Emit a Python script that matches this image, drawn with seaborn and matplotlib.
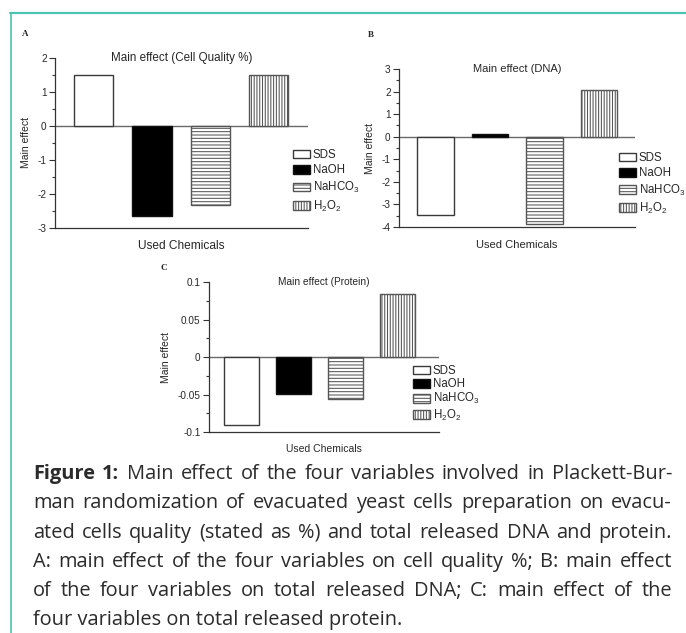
import matplotlib
matplotlib.use("Agg")
import matplotlib.pyplot as plt
from matplotlib.lines import Line2D
import seaborn as sns
import pandas as pd

# ---------- data ----------
chemicals = ["SDS", "NaOH", "NaHCO3", "H2O2"]
legend_labels = ["SDS", "NaOH", "NaHCO$_3$", "H$_2$O$_2$"]

quality_effect = [1.5, -2.65, -2.32, 1.5]
dna_effect = [-3.45, 0.13, -3.86, 2.08]
protein_effect = [-0.091, -0.049, -0.0555, 0.0835]

quality_ticks = [-3, -2, -1, 0, 1, 2]
quality_ticklabels = ["-3", "-2", "-1", "0", "1", "2"]
dna_ticks = [-4, -3, -2, -1, 0, 1, 2, 3]
dna_ticklabels = ["-4", "-3", "-2", "-1", "0", "1", "2", "3"]
protein_ticks = [-0.1, -0.05, 0, 0.05, 0.1]
protein_ticklabels = ["-0.1", "-0.05", "0", "0.05", "0.1"]

caption_lines = [
    "Figure 1: Main effect of the four variables involved in Plackett-Bur-",
    "man randomization of evacuated yeast cells preparation on evacu-",
    "ated cells quality (stated as %) and total released DNA and protein.",
    "A: main effect of the four variables on cell quality %; B: main effect",
    "of the four variables on total released DNA; C: main effect of the",
    "four variables on total released protein.",
]

# ---------- style ----------
bar_colors = ["white", "black", "white", "white"]
bar_hatches = [None, None, "-----", "||||||"]
bar_edges = ["#3a3a3a", "#111111", "#555555", "#555555"]
teal = "#4cc4b2"

sns.set_style("ticks")
plt.rcParams["font.family"] = ["Liberation Sans", "DejaVu Sans"]
plt.rcParams["mathtext.fontset"] = "custom"
plt.rcParams["mathtext.rm"] = "Liberation Sans"
plt.rcParams["mathtext.it"] = "Liberation Sans:italic"
plt.rcParams["axes.unicode_minus"] = False
plt.rcParams["hatch.linewidth"] = 0.75

W, H = 686, 633
fig = plt.figure(figsize=(W / 100, H / 100), dpi=100)


def fx(x):
    return x / W


def fy(y):
    return 1 - y / H


def draw_panel(box, values, title, ticks, ticklabels, minor, xlim, letter, letter_pos,
               legend_pos, title_size, xlabel_size, legend_gap):
    left, top, right, bottom = box
    ax = fig.add_axes([fx(left), fy(bottom), fx(right - left), (bottom - top) / H])
    df = pd.DataFrame({"Chemical": chemicals, "Effect": values})
    sns.barplot(data=df, x="Chemical", y="Effect", hue="Chemical",
                palette=bar_colors, saturation=1, legend=False,
                width=0.67, ax=ax, zorder=2)
    for patch, hatch, edge in zip(ax.patches, bar_hatches, bar_edges):
        if hatch:
            patch.set_hatch(hatch)
        patch.set_edgecolor(edge)
        patch.set_linewidth(1.0)

    ax.axhline(0, color="#6a6a6a", lw=1.0, zorder=1)
    ax.set_ylim(ticks[0], ticks[-1])
    ax.set_xlim(*xlim)
    ax.set_yticks(ticks)
    ax.set_yticklabels(ticklabels)
    ax.set_yticks(minor, minor=True)
    ax.set_xticks([])
    ax.tick_params(axis="y", which="major", length=4, width=0.8, labelsize=7.2, pad=2, color="#333333")
    ax.tick_params(axis="y", which="minor", length=2, width=0.8, color="#333333")
    sns.despine(ax=ax)
    for s in ["left", "bottom"]:
        ax.spines[s].set_color("#333333")
        ax.spines[s].set_linewidth(0.9)

    ax.set_ylabel("Main effect", fontsize=7.5, labelpad=5)
    ax.set_xlabel("Used Chemicals", fontsize=xlabel_size, labelpad=9)
    ax.text(0.5, 1.0, title, transform=ax.transAxes, ha="center", va="center", fontsize=title_size)

    fig.text(fx(letter_pos[0]), fy(letter_pos[1]), letter, ha="center", va="center",
             fontsize=6.5, fontweight="bold", family="Liberation Serif")

    fig.legend(handles=ax.patches, labels=legend_labels, loc="upper left",
               bbox_to_anchor=(fx(legend_pos[0]), fy(legend_pos[1])),
               frameon=False, fontsize=8.3, handlelength=1.5, handleheight=0.8,
               handletextpad=0.2, labelspacing=legend_gap, borderpad=0, borderaxespad=0)
    return ax


draw_panel((55, 58, 308, 228), quality_effect, "Main effect (Cell Quality %)",
           quality_ticks, quality_ticklabels, [-2.5, -1.5, -0.5, 0.5, 1.5],
           (-0.66, 3.67), "A", (25, 34), (293, 149), 8.4, 8.6, 0.3)
draw_panel((399, 69, 635, 227), dna_effect, "Main effect (DNA)",
           dna_ticks, dna_ticklabels, [-3.5, -2.5, -1.5, -0.5, 0.5, 1.5, 2.5],
           (-0.67, 3.66), "B", (371, 35), (619, 152), 8.0, 8.0, 0.28)
draw_panel((209, 282, 439, 432), protein_effect, "Main effect (Protein)",
           protein_ticks, protein_ticklabels, [-0.075, -0.025, 0.025, 0.075],
           (-0.63, 3.8), "C", (164, 268), (413, 365), 7.3, 7.5, 0.1)

# ---------- frame ----------
fig.add_artist(Line2D([fx(10), 1], [fy(13), fy(13)], color=teal, lw=1.6))
fig.add_artist(Line2D([fx(11), fx(11)], [fy(13), 0], color=teal, lw=1.2))

# ---------- caption (justified) ----------
renderer = fig.canvas.get_renderer()
cap_left, cap_right = 33, 672
cap_font = "Open Sans"


def word_width(word, size, weight):
    t = fig.text(0, 0, word, fontsize=size, fontweight=weight, family=cap_font)
    w = t.get_window_extent(renderer).width
    t.remove()
    return w


def split_words(line):
    words = line.split(" ")
    out = []
    for i, w in enumerate(words):
        weight = "bold" if line.startswith("Figure 1:") and i < 2 else "normal"
        out.append((w, weight))
    return out


base = 10
space_w = word_width("a a", base, "normal") - word_width("aa", base, "normal")
natural = []
for line in caption_lines[:-1]:
    ws = split_words(line)
    natural.append(sum(word_width(w, base, wt) for w, wt in ws) + space_w * (len(ws) - 1))
size = 0.97 * base * (cap_right - cap_left) / max(natural)

for i, line in enumerate(caption_lines):
    y = 479 + i * 29.3
    if i == len(caption_lines) - 1:
        # last line is not justified
        fig.text(fx(cap_left), fy(y), line, fontsize=size, family=cap_font,
                 color="#2b2b2b", ha="left", va="baseline")
        continue
    ws = split_words(line)
    widths = [word_width(w, size, wt) for w, wt in ws]
    gap = (cap_right - cap_left - sum(widths)) / (len(ws) - 1)
    x = cap_left
    for (w, wt), wd in zip(ws, widths):
        fig.text(fx(x), fy(y), w, fontsize=size, fontweight=wt, family=cap_font,
                 color="#2b2b2b", ha="left", va="baseline")
        x += wd + gap

fig.savefig("out.png", dpi=100)
